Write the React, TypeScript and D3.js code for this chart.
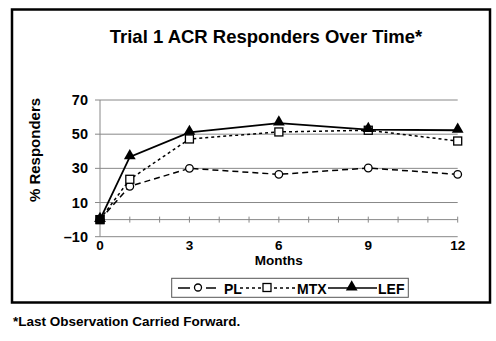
import React from "react";
import * as d3 from "d3";

const months = [0, 1, 3, 6, 9, 12];
const plValues = [0, 19.5, 30, 26.5, 30.2, 26.5];
const mtxValues = [0, 23.6, 47.2, 51.3, 52.3, 46];
const lefValues = [0, 36.7, 51, 56.5, 52.7, 52.3];
const yTicks = [70, 50, 30, 10, -10];
const xTickLabels = [0, 3, 6, 9, 12];
const xMinorTicks = d3.range(0, 13, 1);

const FONT = "'Liberation Sans', Arial, Helvetica, sans-serif";

export default function App() {
  const W = 496, H = 341;
  const x = d3.scaleLinear().domain([0, 12]).range([100, 457.7]);
  const y = d3.scaleLinear().domain([-10, 70]).range([236.7, 100]);
  const line = (vals: number[]) =>
    d3.line<number>().x((_, i) => x(months[i])).y((d) => y(d))(vals) || "";

  const tri = d3.symbol().type(d3.symbolTriangle).size(60)() || "";

  return (
    <svg width={W} height={H} style={{ position: "absolute", left: 0, top: 0, fontFamily: FONT }}>
      <rect x={0} y={0} width={W} height={H} fill="#fff" />
      <rect x={12} y={9.5} width={478} height={293} fill="none" stroke="#000" strokeWidth={2.5} />
      <text x={266} y={43} textAnchor="middle" fontSize={18.5} fontWeight="bold">
        Trial 1 ACR Responders Over Time*
      </text>
      {/* gridlines */}
      {yTicks.map((t) => (
        <g key={t}>
          <line x1={95} x2={457.7} y1={y(t)} y2={y(t)} stroke="#888" strokeWidth={1} />
          <text x={88} y={y(t) + 5} textAnchor="end" fontSize={14.5} fontWeight="bold">
            {t < 0 ? "\u2013" + Math.abs(t) : t}
          </text>
        </g>
      ))}
      <line x1={100} x2={100} y1={100} y2={236.7} stroke="#888" strokeWidth={1} />
      <line x1={100} x2={457.7} y1={y(0)} y2={y(0)} stroke="#888" strokeWidth={1} />
      {xMinorTicks.map((m) => (
        <line key={m} x1={x(m)} x2={x(m)} y1={y(0) - 3} y2={y(0) + 3} stroke="#888" strokeWidth={1} />
      ))}
      {xTickLabels.map((m) => (
        <text key={m} x={x(m)} y={249.5} textAnchor="middle" fontSize={13.5} fontWeight="bold">
          {m}
        </text>
      ))}
      <text x={x(6)} y={264.5} textAnchor="middle" fontSize={13.5} fontWeight="bold">
        Months
      </text>
      <text
        transform={`translate(40,150) rotate(-90)`}
        textAnchor="middle"
        fontSize={15}
        fontWeight="bold"
      >
        % Responders
      </text>
      {/* series */}
      <path d={line(plValues)} fill="none" stroke="#000" strokeWidth={1.5} strokeDasharray="6,4" />
      <path d={line(mtxValues)} fill="none" stroke="#000" strokeWidth={1.5} strokeDasharray="3,3" />
      <path d={line(lefValues)} fill="none" stroke="#000" strokeWidth={1.8} />
      {plValues.map((v, i) => (
        <circle key={"p" + i} cx={x(months[i])} cy={y(v)} r={3.8} fill="#fff" stroke="#000" strokeWidth={1.3} />
      ))}
      {mtxValues.map((v, i) => (
        <rect key={"m" + i} x={x(months[i]) - 4} y={y(v) - 4} width={8} height={8} fill="#fff" stroke="#000" strokeWidth={1.3} />
      ))}
      {lefValues.map((v, i) => (
        <path key={"l" + i} d={tri} transform={`translate(${x(months[i])},${y(v) - 1})`} fill="#000" />
      ))}
      <rect x={x(0) - 4.5} y={y(0) - 4.5} width={9} height={9} fill="#000" />
      {/* legend */}
      <rect x={171.7} y={278.3} width={236.6} height={19} fill="#fff" stroke="#555" strokeWidth={1} />
      <line x1={178} x2={190} y1={288} y2={288} stroke="#000" strokeWidth={1.5} />
      <circle cx={198} cy={287.5} r={3.5} fill="#fff" stroke="#000" strokeWidth={1.3} />
      <line x1={206} x2={216} y1={288} y2={288} stroke="#000" strokeWidth={1.5} />
      <text x={224} y={294} fontSize={14} fontWeight="bold">PL</text>
      <line x1={240} x2={261} y1={288} y2={288} stroke="#000" strokeWidth={1.5} strokeDasharray="3,3" />
      <rect x={263} y={283.5} width={8} height={8} fill="#fff" stroke="#000" strokeWidth={1.3} />
      <line x1={274} x2={297} y1={288} y2={288} stroke="#000" strokeWidth={1.5} strokeDasharray="3,3" />
      <text x={297} y={294} fontSize={14} fontWeight="bold">MTX</text>
      <line x1={328} x2={377} y1={288} y2={288} stroke="#000" strokeWidth={1.5} />
      <path d={tri} transform="translate(351.7,287)" fill="#000" />
      <text x={378} y={294} fontSize={14} fontWeight="bold">LEF</text>
      <text x={13} y={326} fontSize={13.5} fontWeight="bold">
        *Last Observation Carried Forward.
      </text>
    </svg>
  );
}
